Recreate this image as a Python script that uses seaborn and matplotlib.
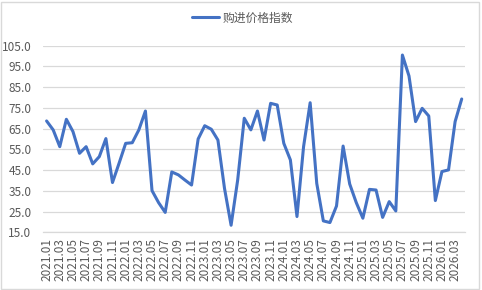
import matplotlib
matplotlib.use("Agg")
import matplotlib.pyplot as plt
import seaborn as sns
import pandas as pd
from matplotlib.patches import Rectangle

months = [f"{2021 + k // 12}.{k % 12 + 1:02d}" for k in range(64)]
values = [68.7, 64.4, 56.3, 69.5, 63.6, 53.1, 56.3, 48.0, 51.5, 60.2, 39.0, 48.3,
          57.9, 58.2, 64.4, 73.5, 35.1, 29.3, 24.6, 44.1, 42.7, 40.2, 37.8, 60.0,
          66.4, 64.7, 59.5, 36.2, 18.4, 40.2, 70.0, 64.4, 73.5, 59.5, 77.2, 76.4,
          57.9, 49.9, 22.6, 56.3, 77.5, 38.6, 20.5, 19.7, 27.7, 56.6, 38.3, 29.3,
          21.8, 35.7, 35.4, 22.2, 29.8, 25.3, 100.5, 90.4, 68.4, 74.8, 71.1, 30.3,
          44.3, 45.1, 68.4, 79.3]
series_name = "购进价格指数"
yticks = [15, 25, 35, 45, 55, 65, 75, 85, 95, 105]

df = pd.DataFrame({"idx": range(len(months)), "month": months, "value": values})

sns.set_theme(style="white")
plt.rcParams['font.family'] = ['Noto Sans CJK SC', 'DejaVu Sans']

fig = plt.figure(figsize=(4.82, 2.90), dpi=100)
ax = fig.add_axes([43.3 / 482, 1 - 232.3 / 290, (465 - 43.3) / 482, (232.3 - 45.7) / 290])

sns.lineplot(data=df, x="idx", y="value", ax=ax, color="#4472C4", linewidth=2.2,
             label=series_name, legend=False)

ax.set_xlim(-0.5, len(months) - 0.5)
ax.set_ylim(15, 105)
ax.set_yticks(yticks)
ax.set_yticklabels([f"{v:.1f}" for v in yticks], fontsize=8.5, color="#595959")
ax.set_xticks(range(0, len(months), 2))
ax.set_xticklabels(months[::2], rotation=90, fontsize=8.5, color="#595959")
ax.tick_params(axis="y", length=0, pad=8.5)
ax.tick_params(axis="x", length=0, pad=4)
ax.grid(axis="y", color="#D9D9D9", linewidth=0.9)
ax.set_axisbelow(True)
for s in ["top", "right", "left"]:
    ax.spines[s].set_visible(False)
ax.spines["bottom"].set_color("#D9D9D9")
ax.spines["bottom"].set_linewidth(0.9)
ax.set_xlabel("")
ax.set_ylabel("")

handles, labels = ax.get_legend_handles_labels()
fig.legend(handles, labels, loc="center", bbox_to_anchor=(0.503, 0.938), frameon=False,
           fontsize=8.5, handlelength=2.3, handletextpad=0.25, labelcolor="#595959")

fig.patches.append(Rectangle((0.002, 0.004), 0.992, 0.99, transform=fig.transFigure,
                             fill=False, edgecolor="#D9D9D9", linewidth=1.0))

fig.savefig("out.png", dpi=100, facecolor="white")
